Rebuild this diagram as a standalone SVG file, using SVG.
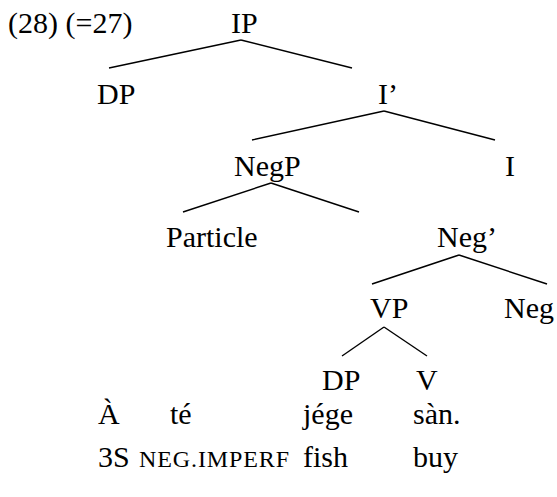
<svg xmlns="http://www.w3.org/2000/svg" width="557" height="497" viewBox="0 0 557 497">
<style>
text{font-family:"Liberation Serif","Times New Roman",serif;font-size:30px;fill:#000}
.sc{font-size:24px;letter-spacing:0.9px}
line{stroke:#000;stroke-width:1.4}
</style>
<rect width="557" height="497" fill="#fff"/>
<text x="8" y="33">(28) (=27)</text>
<g id="connectors">
<line x1="241" y1="40" x2="109" y2="68"/>
<line x1="241" y1="40" x2="352" y2="68"/>
<line x1="384" y1="111" x2="252" y2="140"/>
<line x1="384" y1="111" x2="495" y2="140"/>
<line x1="271" y1="183" x2="183" y2="212"/>
<line x1="271" y1="183" x2="359" y2="212"/>
<line x1="459" y1="255" x2="372" y2="284"/>
<line x1="459" y1="255" x2="547" y2="284"/>
<line x1="384" y1="327" x2="342" y2="356"/>
<line x1="384" y1="327" x2="427" y2="356"/>
</g>
<g id="n-IP"><text x="231" y="33">IP</text></g>
<g id="n-DP"><text x="97" y="104">DP</text></g>
<g id="n-Ibar"><text x="378" y="104">I’</text></g>
<g id="n-NegP"><text x="234" y="176">NegP</text></g>
<g id="n-I"><text x="505" y="176">I</text></g>
<g id="n-Particle"><text x="166" y="247">Particle</text></g>
<g id="n-Negbar"><text x="437" y="247">Neg’</text></g>
<g id="n-VP"><text x="370" y="318">VP</text></g>
<g id="n-Neg"><text x="504" y="318">Neg</text></g>
<g id="n-DP2"><text x="322" y="390">DP</text></g>
<g id="n-V"><text x="416" y="390">V</text></g>
<g id="words">
<text x="98" y="424">À</text>
<text x="170" y="424">té</text>
<text x="303" y="424">jége</text>
<text x="413" y="424">sàn.</text>
</g>
<g id="gloss">
<text x="98" y="467">3S</text>
<text class="sc" x="139" y="467">NEG.IMPERF</text>
<text x="303" y="467">fish</text>
<text x="413" y="467">buy</text>
</g>
</svg>
